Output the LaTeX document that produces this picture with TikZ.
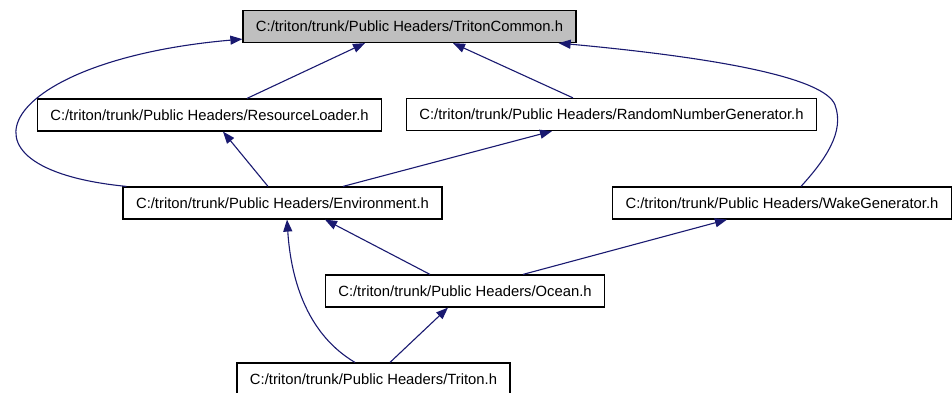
\documentclass[tikz,border=0pt]{standalone}
\usepackage{fontspec}
\setmainfont{Liberation Sans}
\usetikzlibrary{arrows.meta}
\definecolor{edgeblue}{HTML}{191970}
\tikzset{
    header/.style={
        rectangle, draw=black, line width=1.2pt, minimum height=32pt, inner xsep=13pt, inner ysep=0pt,
        align=center, font=\fontsize{14.8}{16}\selectfont, text=black
    },
    header_root/.style={
        header, fill=black!25
    },
    incl/.style={
        draw=edgeblue, line width=1.1pt, -{Triangle[length=12pt, width=9pt]}
    }
}

\begin{document}
\begin{tikzpicture}[x=1pt, y=-1pt]
    \useasboundingbox (0,0) rectangle (952,392);

    % Header files
    \node[header_root] (common) at (409.5, 26.5) {C:/triton/trunk/Public Headers/TritonCommon.h};
    \node[header] (resload) at (209.5, 115) {C:/triton/trunk/Public Headers/ResourceLoader.h};
    \node[header] (rng) at (611.5, 114.5) {C:/triton/trunk/Public Headers/RandomNumberGenerator.h};
    \node[header] (env) at (282.5, 203) {C:/triton/trunk/Public Headers/Environment.h};
    \node[header] (wake) at (782, 203) {C:/triton/trunk/Public Headers/WakeGenerator.h};
    \node[header] (ocean) at (465, 291) {C:/triton/trunk/Public Headers/Ocean.h};
    \node[header] (triton) at (373.5, 379) {C:/triton/trunk/Public Headers/Triton.h};

    % Includes of TritonCommon.h
    \draw[incl] ([xshift=37.5pt]resload.north) -- ([xshift=-44.5pt]common.south);
    \draw[incl] ([xshift=-38.5pt]rng.north) -- ([xshift=43.5pt]common.south);
    \draw[incl] ([xshift=4pt]env.north west) .. controls (-62,168) and (2,60) .. ([yshift=4pt]common.south west);
    \draw[incl] ([xshift=19pt]wake.north) .. controls (825,160) and (845,132) .. (835,105)
        .. controls (825,78) and (720,58) .. ([xshift=-18pt]common.south east);

    % Environment.h
    \draw[incl] ([xshift=-14.5pt]env.north) -- ([xshift=13.5pt]resload.south);
    \draw[incl] ([xshift=60.5pt]env.north) -- ([xshift=-59.5pt]rng.south);

    % Ocean.h
    \draw[incl] ([xshift=-35pt]ocean.north) -- ([xshift=42.5pt]env.south);
    \draw[incl] ([xshift=58pt]ocean.north) -- ([xshift=-55pt]wake.south);

    % Triton.h
    \draw[incl] ([xshift=16.5pt]triton.north) -- ([xshift=-17pt]ocean.south);
    \draw[incl] ([xshift=-18.5pt]triton.north) .. controls (300,330) and (290,265) .. ([xshift=4.5pt]env.south);
\end{tikzpicture}
\end{document}
